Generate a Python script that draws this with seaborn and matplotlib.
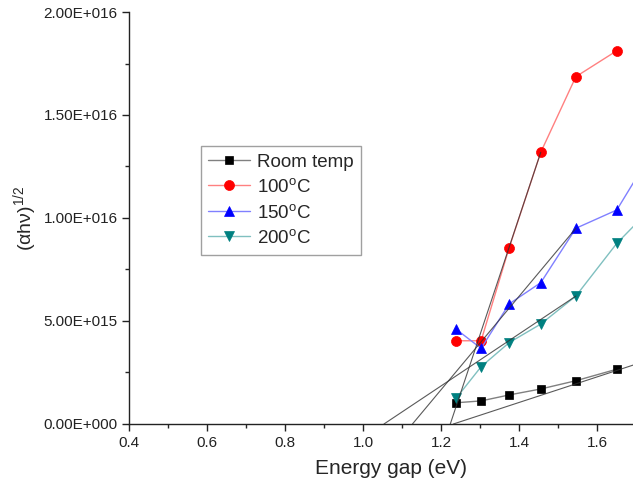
import numpy as np
import pandas as pd
import matplotlib
matplotlib.use('Agg')
import matplotlib.pyplot as plt
from matplotlib.ticker import MultipleLocator, FuncFormatter
import seaborn as sns

# Energy gap (eV) of the measured points
energy = [1.238, 1.302, 1.374, 1.455, 1.545, 1.650]
# last point of 150/200 C lies just beyond the visible range
energy_ext = [1.238, 1.302, 1.374, 1.455, 1.545, 1.650, 1.750]

room_temp = [1.03e15, 1.12e15, 1.41e15, 1.70e15, 2.10e15, 2.66e15]
t100 = [4.04e15, 4.04e15, 8.56e15, 13.19e15, 16.86e15, 18.12e15]
t150 = [4.60e15, 3.67e15, 5.83e15, 6.86e15, 9.50e15, 10.39e15, 13.5e15]
t200 = [1.25e15, 2.78e15, 3.95e15, 4.85e15, 6.21e15, 8.77e15, 10.7e15]

# linear extrapolation (tangent) lines: x-intercept -> end point
fit_x = [[1.231, 1.750], [1.223, 1.455], [1.126, 1.545], [1.053, 1.545]]
fit_y = [[0.0, 3.22e15], [0.0, 13.19e15], [0.0, 9.50e15], [0.0, 6.21e15]]

sns.set_style('ticks')
plt.rcParams['font.family'] = ['Liberation Sans', 'DejaVu Sans']
plt.rcParams['mathtext.default'] = 'regular'

fig = plt.figure(figsize=(6.33, 4.86), dpi=100)
ax = fig.add_axes([0.2043, 0.1276, 0.7957, 0.8477])

series = [
    ('Room temp', energy, room_temp, '#000000', '#808080', 's', 6.0),
    ('100$^{o}$C', energy, t100, '#ff0000', '#ff8080', 'o', 7.2),
    ('150$^{o}$C', energy_ext, t150, '#0000ff', '#8080ff', '^', 7.5),
    ('200$^{o}$C', energy_ext, t200, '#008080', '#80c0c0', 'v', 7.5),
]

for label, xs, ys, mc, lc, m, ms in series:
    sns.lineplot(x=xs, y=ys, ax=ax, color=lc, lw=1.0, marker=m, markersize=ms,
                 markerfacecolor=mc, markeredgecolor=mc, markeredgewidth=0.5,
                 label=label, sort=False, zorder=3)

for fx, fy in zip(fit_x, fit_y):
    sns.lineplot(x=fx, y=fy, ax=ax, color='#303030', lw=0.8, alpha=0.8,
                 legend=False, zorder=4)

ax.set_xlim(0.4, 1.6915)
ax.set_ylim(0, 2.0e16)
ax.xaxis.set_major_locator(MultipleLocator(0.2))
ax.xaxis.set_minor_locator(MultipleLocator(0.1))
ax.yaxis.set_major_locator(MultipleLocator(5e15))
ax.yaxis.set_minor_locator(MultipleLocator(2.5e15))


def sci_fmt(v, pos):
    if v == 0:
        return '0.00E+000'
    e = int(np.floor(np.log10(abs(v))))
    m = v / 10 ** e
    return f'{m:.2f}E+{e:03d}'


ax.yaxis.set_major_formatter(FuncFormatter(sci_fmt))
ax.tick_params(which='major', direction='out', length=5, width=1, labelsize=11, colors='#222222')
ax.tick_params(which='minor', direction='out', length=3, width=1)
sns.despine(ax=ax)
for s in ['left', 'bottom']:
    ax.spines[s].set_linewidth(1.0)
    ax.spines[s].set_color('#222222')

ax.set_xlabel('Energy gap (eV)', fontsize=15, labelpad=7)
ax.xaxis.set_label_coords(0.52, -0.085)
ax.set_ylabel(r'($\alpha$h$\nu$)$^{1/2}$', fontsize=14, labelpad=3)

leg = ax.legend(loc='upper left', bbox_to_anchor=(0.142, 0.675), borderaxespad=0,
                fontsize=13.5, frameon=True, fancybox=False, handlelength=2.2,
                handletextpad=0.4, labelspacing=0.4, borderpad=0.4)
leg.get_frame().set_edgecolor('#888888')
leg.get_frame().set_linewidth(1.0)

fig.savefig('out.png', dpi=100)
